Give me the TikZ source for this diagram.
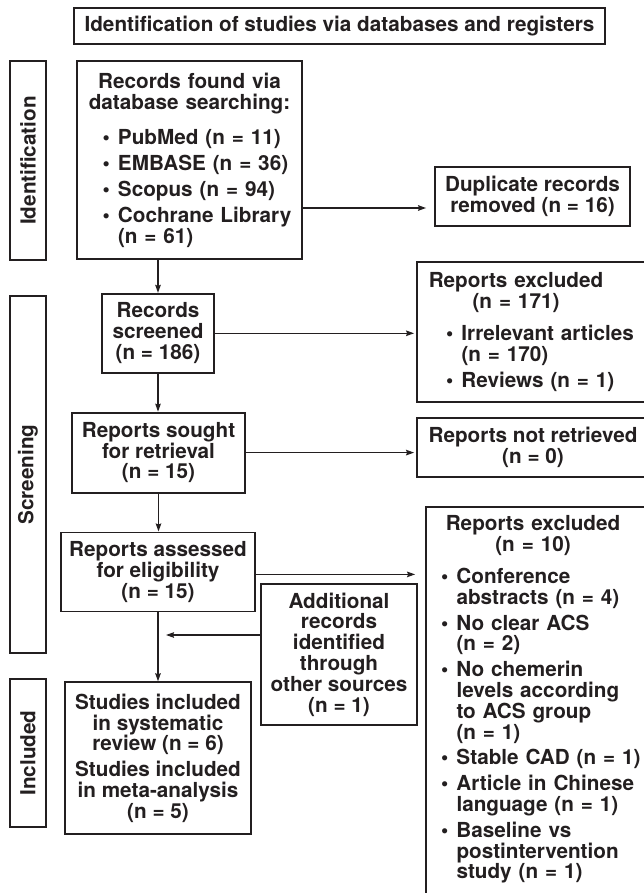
\documentclass[tikz,border=0pt]{standalone}
\usepackage{fontspec}
\setmainfont{TeX Gyre Heros}
\usetikzlibrary{arrows.meta, positioning, calc}
\definecolor{prismaink}{RGB}{35,31,32}
\newcommand{\prismafont}{\fontsize{20.7}{20.8}\selectfont\bfseries}
% bullet rows and header rows inside the list boxes
\newcommand{\bitem}[1]{\makebox[\linewidth][l]{\makebox[15.5pt][l]{\textbullet}#1}}
\newcommand{\bcont}[1]{\makebox[\linewidth][l]{\hspace*{15.5pt}#1}}
\newcommand{\hdr}[2]{\makebox[\linewidth][l]{\makebox[#1][c]{#2}}}
\newcommand{\ctr}[1]{\makebox[\linewidth][c]{#1}}
\tikzset{
  % Flow box (fixed size, centred text)
  prismabox/.style={
    rectangle, draw=prismaink, text=prismaink, line width=1.8pt,
    font=\prismafont, align=center, inner sep=0pt
  },
  % List box with bullets (text width given)
  listbox/.style={prismabox, text width=#1},
  % Phase label on the left
  sidelabel/.style={prismabox, rotate=90, minimum height=36pt},
  flowarrow/.style={-{Stealth[length=8pt, width=5.5pt, inset=1pt]}, line width=1.4pt, draw=prismaink}
}
\begin{document}
\begin{tikzpicture}[x=1pt, y=-1pt]
  \useasboundingbox (0,0) rectangle (644,893);
  \clip (0,0) rectangle (644,893);

  % Title
  \node[prismabox, minimum width=531pt, minimum height=36pt] (title) at (339.5,26)
    {Identification of studies via databases and registers};

  % Phase labels
  \node[sidelabel, minimum width=199pt] (idlab) at (28,160.5) {Identification};
  \node[sidelabel, minimum width=357pt] (sclab) at (28,474.5) {Screening};
  \node[sidelabel, minimum width=148pt] (inlab) at (28,753) {Included};

  % Main column
  \node[listbox=174pt, minimum width=225pt, minimum height=198pt] (found) at (189.5,160)
    {\ctr{Records found via}\\\ctr{database searching:}\\[15pt]
     \bitem{PubMed (n = 11)}\\[5pt]
     \bitem{EMBASE (n = 36)}\\[5pt]
     \bitem{Scopus (n = 94)}\\[5pt]
     \bitem{Cochrane Library}\\\bcont{(n = 61)}};
  \node[prismabox, minimum width=112pt, minimum height=79pt, below=33pt of found, xshift=-31.5pt] (screened)
    {Records\\screened\\(n = 186)};
  \node[prismabox, minimum width=173pt, minimum height=80pt, below=38pt of screened, xshift=0.5pt] (sought)
    {Reports sought\\for retrieval\\(n = 15)};
  \node[prismabox, minimum width=194pt, minimum height=79pt, below=38pt of sought, xshift=-0.5pt] (assessed)
    {Reports assessed\\for eligibility\\(n = 15)};
  \node[prismabox, minimum width=186pt, minimum height=152pt, below=69pt of assessed] (studies)
    {Studies included\\in systematic\\review (n = 6)\\[5pt]Studies included\\in meta-analysis\\(n = 5)};
  \node[prismabox, minimum width=156pt, minimum height=141pt] (addl) at (339,654.5)
    {Additional\\records\\identified\\through\\other sources\\(n = 1)};

  % Right column
  \node[prismabox, minimum width=195pt, minimum height=59pt] (dup) at (532.5,196.5)
    {Duplicate records\\removed (n = 16)};
  \node[listbox=200pt, minimum width=258pt, minimum height=140pt] (excla) at (546,332)
    {\hdr{140pt}{Reports excluded}\\\hdr{140pt}{(n = 171)}\\[11pt]
     \bitem{Irrelevant articles}\\\bcont{(n = 170)}\\[5pt]
     \bitem{Reviews (n = 1)}};
  \node[prismabox, minimum width=232pt, minimum height=59pt] (notret) at (533,447.5)
    {Reports not retrieved\\(n = 0)};
  \node[listbox=224pt, minimum width=254pt, inner ysep=9pt, anchor=north] (exclb) at (553,506)
    {\hdr{184pt}{Reports excluded}\\\hdr{184pt}{(n = 10)}\\[11pt]
     \bitem{Conference}\\\bcont{abstracts (n = 4)}\\[5pt]
     \bitem{No clear ACS}\\\bcont{(n = 2)}\\[5pt]
     \bitem{No chemerin}\\\bcont{levels according}\\\bcont{to ACS group}\\\bcont{(n = 1)}\\[5pt]
     \bitem{Stable CAD (n = 1)}\\[5pt]
     \bitem{Article in Chinese}\\\bcont{language (n = 1)}\\[5pt]
     \bitem{Baseline vs}\\\bcont{postintervention}\\\bcont{study (n = 1)}\\[40pt]\mbox{}};

  % Arrows
  \draw[flowarrow, shorten >=8pt] ([yshift=-11.5pt]dup.west -| found.east) -- ([yshift=-11.5pt]dup.west);
  \draw[flowarrow] (found.south -| screened.north) -- (screened.north);
  \draw[flowarrow, shorten >=2pt] (screened.east) -- (screened.east -| excla.west);
  \draw[flowarrow] (screened.south) -- (screened.south |- sought.north);
  \draw[flowarrow, shorten >=2pt] (sought.east) -- (sought.east -| notret.west);
  \draw[flowarrow] (sought.south) -- (sought.south |- assessed.north);
  \draw[flowarrow, shorten >=10pt] ([yshift=-2.5pt]assessed.east) -- ([yshift=-2.5pt]assessed.east -| exclb.west);
  \draw[flowarrow] (assessed.south) -- (assessed.south |- studies.north);
  \draw[flowarrow, shorten >=8pt] ([yshift=19.5pt]addl.west) -- ([yshift=19.5pt]addl.west -| assessed.south);
\end{tikzpicture}
\end{document}
